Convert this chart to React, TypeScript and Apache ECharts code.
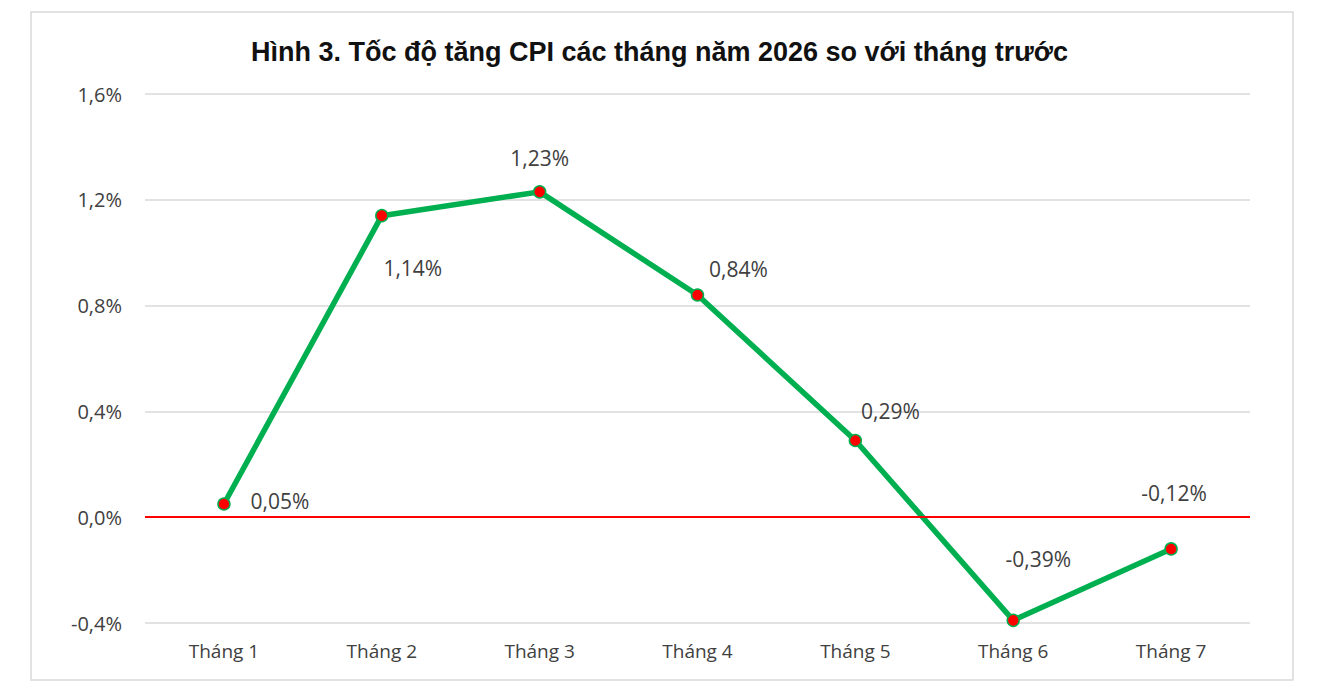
import React, { useEffect, useRef } from "react";
import * as echarts from "echarts";

const TITLE = "Hình 3. Tốc độ tăng CPI các tháng năm 2026 so với tháng trước";
const categories = ["Tháng 1", "Tháng 2", "Tháng 3", "Tháng 4", "Tháng 5", "Tháng 6", "Tháng 7"];
const cpiChange = [0.05, 1.14, 1.23, 0.84, 0.29, -0.39, -0.12];
const yMin = -0.4;
const yMax = 1.6;
const yStep = 0.4;
// label placement relative to each point (style only)
const labelOffsets: [number, number][] = [
  [56, -3],
  [31, 52],
  [0, -34],
  [41, -26],
  [35, -29],
  [25, -61],
  [3, -56],
];

const FONT = "'Open Sans', 'Liberation Sans', sans-serif";
const TEXT = "#404040";

export default function App() {
  const ref = useRef<HTMLDivElement>(null);
  useEffect(() => {
    if (!ref.current) return;
    const chart = echarts.init(ref.current, null, { renderer: "svg" });
    const fmtPct = (v: number, d: number) => v.toFixed(d).replace(".", ",") + "%";
    chart.setOption({
      animation: false,
      backgroundColor: "#ffffff",
      title: {
        text: TITLE,
        left: "center",
        top: 33,
        textStyle: {
          fontFamily: "'Liberation Sans', Arial, sans-serif",
          fontWeight: "bold",
          fontSize: 27,
          color: "#111111",
        },
      },
      graphic: [
        {
          type: "rect",
          shape: { x: 31, y: 12, width: 1262, height: 668 },
          style: { fill: "none", stroke: "#d9d9d9", lineWidth: 1.5 },
          silent: true,
          z: 0,
        },
      ],
      grid: { left: 145, right: 69, top: 94, bottom: 69, containLabel: false },
      xAxis: {
        type: "category",
        data: categories,
        boundaryGap: true,
        axisLine: { show: false },
        axisTick: { show: false },
        axisLabel: { color: TEXT, fontFamily: FONT, fontSize: 19, margin: 18 },
        splitLine: { show: false },
      },
      yAxis: {
        type: "value",
        min: yMin,
        max: yMax,
        interval: yStep,
        axisLine: { show: false },
        axisTick: { show: false },
        axisLabel: {
          color: TEXT,
          fontFamily: FONT,
          fontSize: 20,
          margin: 23,
          formatter: (v: number) => fmtPct(Math.round(v * 10) / 10, 1),
        },
        splitLine: { lineStyle: { color: "#d9d9d9", width: 1.5 } },
      },
      series: [
        {
          type: "line",
          data: [],
          z: 1,
          silent: true,
          markLine: {
            silent: true,
            symbol: "none",
            label: { show: false },
            lineStyle: { color: "#ff0000", width: 2, type: "solid" },
            data: [{ yAxis: 0 }],
          },
        },
        {
          type: "line",
          z: 3,
          data: cpiChange.map((v, i) => ({
            value: v,
            label: { offset: labelOffsets[i] },
          })),
          lineStyle: { color: "#00b050", width: 5.5 },
          symbol: "circle",
          symbolSize: 12,
          itemStyle: { color: "#ff0000", borderColor: "#00b050", borderWidth: 1.5 },
          label: {
            show: true,
            position: "inside",
            color: TEXT,
            fontFamily: FONT,
            fontSize: 21,
            formatter: (p: any) => fmtPct(p.value, 2),
          },
        },
      ],
    });
    return () => chart.dispose();
  }, []);
  return (
    <div
      ref={ref}
      style={{ position: "absolute", left: 0, top: 0, width: 1319, height: 692 }}
    />
  );
}
